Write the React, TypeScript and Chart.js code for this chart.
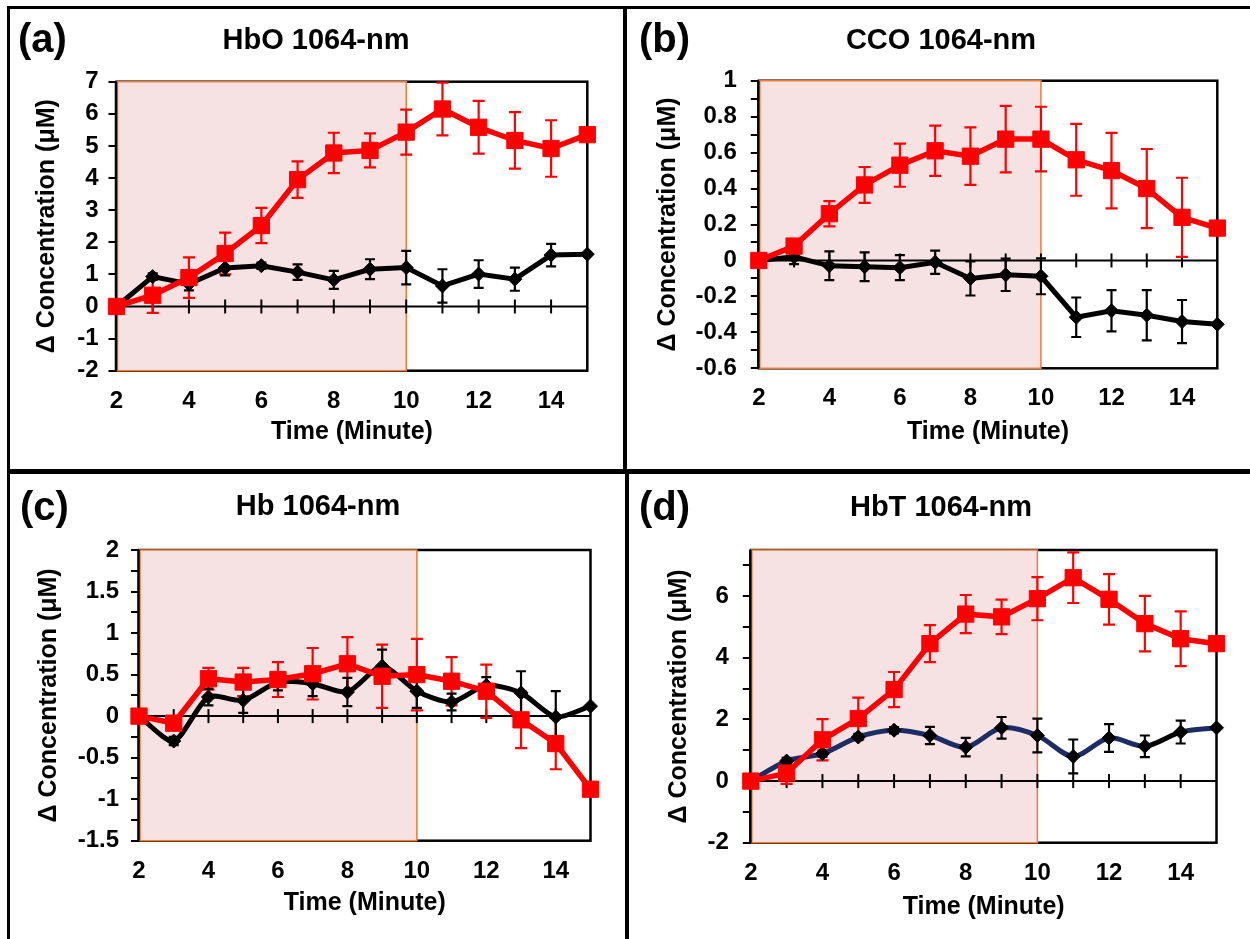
import React, { useEffect, useRef } from 'react';
import { Chart, registerables } from 'chart.js';

Chart.register(...registerables);

// ---------- data ----------
const minutes = [2, 3, 4, 5, 6, 7, 8, 9, 10, 11, 12, 13, 14, 15];
const xTickLabels = [2, 4, 6, 8, 10, 12, 14];
const stimulusWindow = [2, 10];

// (a) HbO
const hboRed = [0, 0.35, 0.9, 1.65, 2.52, 3.95, 4.78, 4.86, 5.43, 6.15, 5.58, 5.17, 4.92, 5.35];
const hboRedErr = [0, 0.55, 0.63, 0.65, 0.55, 0.57, 0.63, 0.53, 0.7, 0.82, 0.82, 0.88, 0.88, 0];
const hboBlack = [0, 0.93, 0.7, 1.2, 1.27, 1.07, 0.83, 1.16, 1.21, 0.64, 1.01, 0.85, 1.6, 1.63];
const hboBlackErr = [0, 0.1, 0.2, 0.23, 0.1, 0.24, 0.28, 0.31, 0.52, 0.52, 0.43, 0.36, 0.35, 0];
const hboYLabels = [-2, -1, 0, 1, 2, 3, 4, 5, 6, 7];

// (b) CCO
const ccoRed = [0, 0.08, 0.26, 0.42, 0.53, 0.61, 0.58, 0.675, 0.675, 0.56, 0.5, 0.4, 0.24, 0.18];
const ccoRedErr = [0, 0.03, 0.07, 0.1, 0.12, 0.14, 0.16, 0.185, 0.18, 0.2, 0.21, 0.22, 0.22, 0];
const ccoBlack = [0, 0.02, -0.03, -0.035, -0.04, -0.01, -0.1, -0.08, -0.088, -0.316, -0.28, -0.305, -0.34, -0.355];
const ccoBlackErr = [0, 0.04, 0.08, 0.08, 0.07, 0.065, 0.095, 0.09, 0.1, 0.11, 0.115, 0.14, 0.12, 0];
const ccoYLabels = [-0.6, -0.4, -0.2, 0, 0.2, 0.4, 0.6, 0.8, 1];

// (c) Hb
const hbRed = [0, -0.085, 0.45, 0.41, 0.44, 0.51, 0.63, 0.48, 0.5, 0.42, 0.3, -0.045, -0.33, -0.88];
const hbRedErr = [0, 0.05, 0.13, 0.17, 0.21, 0.31, 0.32, 0.38, 0.43, 0.29, 0.32, 0.34, 0.31, 0];
const hbBlack = [0, -0.3, 0.23, 0.19, 0.41, 0.39, 0.29, 0.6, 0.3, 0.17, 0.37, 0.28, -0.01, 0.12];
const hbBlackErr = [0, 0.05, 0.1, 0.15, 0.1, 0.15, 0.17, 0.2, 0.2, 0.1, 0.1, 0.26, 0.31, 0];
const hbYLabels = [-1.5, -1, -0.5, 0, 0.5, 1, 1.5, 2];

// (d) HbT
const hbtRed = [0, 0.26, 1.34, 2.03, 2.97, 4.46, 5.42, 5.33, 5.92, 6.6, 5.9, 5.11, 4.62, 4.46];
const hbtRedErr = [0, 0.35, 0.67, 0.68, 0.57, 0.6, 0.62, 0.56, 0.7, 0.82, 0.82, 0.9, 0.89, 0];
const hbtBlack = [0, 0.65, 0.89, 1.43, 1.65, 1.48, 1.1, 1.73, 1.48, 0.8, 1.4, 1.13, 1.59, 1.73];
const hbtBlackErr = [0, 0.1, 0.1, 0.1, 0.1, 0.28, 0.3, 0.35, 0.55, 0.55, 0.45, 0.35, 0.37, 0];
const hbtYLabels = [-2, 0, 2, 4, 6];

// ---------- styles ----------
const FONT = "'Liberation Sans', Arial, Helvetica, sans-serif";
const RED = '#ff0000';
const BLACK = '#000000';
const NAVY = '#1b2d63';
const PINK = '#f7e2e3';
const ORANGE = '#ec7d31';
const hbtSegColors = [NAVY, NAVY, NAVY, NAVY, NAVY, NAVY, NAVY, NAVY, NAVY, NAVY, NAVY, BLACK, NAVY];

const TITLE_AXIS_SIZE = 25;
const TICK_SIZE = 24;
const HALF_LH = (TITLE_AXIS_SIZE * 1.2) / 2;

const panels = [
  {
    key: 'a', label: '(a)', title: 'HbO 1064-nm',
    red: hboRed, redErr: hboRedErr, black: hboBlack, blackErr: hboBlackErr,
    blackTension: 0, seg: null as string[] | null,
    yMin: -2, yMax: 7, yStep: 1, yLabels: hboYLabels,
    box: { x: 10, y: 9, w: 613, h: 460 },
    area: { l: 116.5, t: 81.7, r: 587.3, b: 370.7 },
    yTitleCx: 47.3, xTitleCy: 431.7, yGap: 18,
    labelPos: [18, 51.5], titlePos: [316, 49.3],
  },
  {
    key: 'b', label: '(b)', title: 'CCO 1064-nm',
    red: ccoRed, redErr: ccoRedErr, black: ccoBlack, blackErr: ccoBlackErr,
    blackTension: 0, seg: null as string[] | null,
    yMin: -0.6, yMax: 1, yStep: 0.1, yLabels: ccoYLabels,
    box: { x: 628, y: 9, w: 622, h: 460 },
    area: { l: 758.8, t: 80.7, r: 1217.3, b: 368.3 },
    yTitleCx: 668, xTitleCy: 432.3, yGap: 22,
    labelPos: [639, 51.5], titlePos: [941, 49],
  },
  {
    key: 'c', label: '(c)', title: 'Hb 1064-nm',
    red: hbRed, redErr: hbRedErr, black: hbBlack, blackErr: hbBlackErr,
    blackTension: 0.25, seg: null as string[] | null,
    yMin: -1.5, yMax: 2, yStep: 0.25, yLabels: hbYLabels,
    box: { x: 10, y: 474, w: 614, h: 465 },
    area: { l: 139, t: 550, r: 590.5, b: 840.7 },
    yTitleCx: 48.8, xTitleCy: 903.3, yGap: 20,
    labelPos: [20, 519.5], titlePos: [318, 515],
  },
  {
    key: 'd', label: '(d)', title: 'HbT 1064-nm',
    red: hbtRed, redErr: hbtRedErr, black: hbtBlack, blackErr: hbtBlackErr,
    blackTension: 0.3, seg: hbtSegColors as string[] | null,
    yMin: -2, yMax: 7.5, yStep: 1, yLabels: hbtYLabels,
    box: { x: 629, y: 474, w: 621, h: 465 },
    area: { l: 750.8, t: 550, r: 1216.5, b: 842.7 },
    yTitleCx: 678.9, xTitleCy: 906.7, yGap: 22,
    labelPos: [639, 519.5], titlePos: [941, 516],
  },
];

type PanelCfg = (typeof panels)[number];

const decorPlugin = {
  id: 'decor',
  beforeDatasetsDraw(chart: any) {
    const { ctx, chartArea: a, scales } = chart;
    const x = scales.x;
    const y = scales.y;
    ctx.save();
    // frame
    ctx.strokeStyle = BLACK;
    ctx.lineWidth = 2.5;
    ctx.strokeRect(a.left, a.top, a.right - a.left, a.bottom - a.top);
    // stimulus band
    const x0 = x.getPixelForValue(stimulusWindow[0]);
    const x1 = x.getPixelForValue(stimulusWindow[1]);
    ctx.fillStyle = PINK;
    ctx.fillRect(x0, a.top, x1 - x0, a.bottom - a.top);
    ctx.strokeStyle = ORANGE;
    ctx.lineWidth = 1.5;
    ctx.strokeRect(x0 + 1, a.top, x1 - x0 - 1, a.bottom - a.top);
    // left axis line
    ctx.strokeStyle = BLACK;
    ctx.lineWidth = 2.5;
    ctx.beginPath();
    ctx.moveTo(a.left - 0.5, a.top);
    ctx.lineTo(a.left - 0.5, a.bottom);
    ctx.stroke();
    // zero line with crossing ticks
    const y0 = y.getPixelForValue(0);
    ctx.lineWidth = 2;
    ctx.beginPath();
    ctx.moveTo(a.left, y0);
    ctx.lineTo(a.right, y0);
    ctx.stroke();
    x.ticks.forEach((t: any) => {
      if (t.value <= x.min || t.value >= x.max) return;
      const px = x.getPixelForValue(t.value);
      ctx.beginPath();
      ctx.moveTo(px, y0 - 7);
      ctx.lineTo(px, y0 + 7);
      ctx.stroke();
    });
    // error bars
    chart.data.datasets.forEach((ds: any) => {
      const errs: number[] = ds.errors || [];
      ctx.strokeStyle = ds.errColor;
      ctx.lineWidth = 2.2;
      ds.data.forEach((pt: any, j: number) => {
        const e = errs[j];
        if (!e) return;
        const px = x.getPixelForValue(pt.x);
        const pTop = y.getPixelForValue(pt.y + e);
        const pBot = y.getPixelForValue(pt.y - e);
        const c = ds.capHalf;
        ctx.beginPath();
        ctx.moveTo(px, pTop);
        ctx.lineTo(px, pBot);
        ctx.moveTo(px - c, pTop);
        ctx.lineTo(px + c, pTop);
        ctx.moveTo(px - c, pBot);
        ctx.lineTo(px + c, pBot);
        ctx.stroke();
      });
    });
    ctx.restore();
  },
  afterDraw(chart: any, _args: any, opts: any) {
    const { ctx } = chart;
    ctx.save();
    ctx.fillStyle = BLACK;
    ctx.textBaseline = 'alphabetic';
    ctx.font = `bold 40px ${FONT}`;
    ctx.textAlign = 'left';
    ctx.fillText(opts.label, opts.labelPos[0] - opts.ox, opts.labelPos[1] - opts.oy);
    ctx.font = `bold 29px ${FONT}`;
    ctx.textAlign = 'center';
    ctx.fillText(opts.title, opts.titlePos[0] - opts.ox, opts.titlePos[1] - opts.oy);
    ctx.restore();
  },
};

function PanelChart({ p }: { p: PanelCfg }) {
  const ref = useRef<HTMLCanvasElement>(null);
  useEffect(() => {
    const canvas = ref.current;
    if (!canvas) return;
    const scaleLeft = p.yTitleCx - HALF_LH;
    const padLeft = scaleLeft - p.box.x;
    const yW = p.area.l - scaleLeft;
    const xH = p.xTitleCy + HALF_LH - p.area.b;
    const padTop = p.area.t - p.box.y;
    const padRight = p.box.x + p.box.w - p.area.r;
    const padBottom = p.box.y + p.box.h - p.area.b - xH;
    const tickFont = { family: FONT, size: TICK_SIZE, weight: 'bold' as const };
    const titleFont = { family: FONT, size: TITLE_AXIS_SIZE, weight: 'bold' as const };
    const isLabel = (arr: number[], v: number) => arr.some((l) => Math.abs(l - v) < 1e-6);

    const blackDs: any = {
      label: 'black',
      data: minutes.map((m, i) => ({ x: m, y: p.black[i] })),
      errors: p.blackErr,
      errColor: BLACK,
      capHalf: 5,
      borderColor: p.seg ? NAVY : BLACK,
      backgroundColor: BLACK,
      pointBackgroundColor: BLACK,
      pointBorderColor: BLACK,
      pointStyle: 'rectRot',
      pointRadius: 7,
      pointBorderWidth: 1,
      borderWidth: 5,
      tension: p.blackTension,
      clip: false,
    };
    if (p.seg) {
      const segs = p.seg;
      blackDs.segment = { borderColor: (c: any) => segs[c.p0DataIndex] };
    }

    const chart = new Chart(canvas, {
      type: 'line',
      data: {
        datasets: [
          {
            label: 'red',
            data: minutes.map((m, i) => ({ x: m, y: p.red[i] })),
            errors: p.redErr,
            errColor: RED,
            capHalf: 6,
            borderColor: RED,
            backgroundColor: RED,
            pointBackgroundColor: RED,
            pointBorderColor: RED,
            pointStyle: 'rect',
            pointRadius: 11.5,
            pointBorderWidth: 1,
            borderWidth: 5.5,
            tension: 0,
            clip: false,
          } as any,
          blackDs,
        ],
      },
      options: {
        animation: false,
        responsive: false,
        devicePixelRatio: 1,
        events: [],
        layout: { padding: { left: padLeft, top: padTop, right: padRight, bottom: padBottom } },
        plugins: {
          legend: { display: false },
          tooltip: { enabled: false },
          title: { display: false },
          decor: {
            label: p.label,
            title: p.title,
            labelPos: p.labelPos,
            titlePos: p.titlePos,
            ox: p.box.x,
            oy: p.box.y,
          },
        } as any,
        scales: {
          x: {
            type: 'linear',
            position: 'bottom',
            min: minutes[0],
            max: minutes[minutes.length - 1],
            afterFit: (s: any) => {
              s.height = xH;
            },
            grid: { display: false, drawTicks: false },
            border: { display: false },
            ticks: {
              stepSize: 1,
              autoSkip: false,
              maxRotation: 0,
              minRotation: 0,
              padding: 16,
              color: BLACK,
              font: tickFont,
              callback: (v: any) => (isLabel(xTickLabels, Number(v)) ? String(v) : ''),
            },
            title: { display: true, text: 'Time (Minute)', color: BLACK, font: titleFont, padding: 0 },
          },
          y: {
            type: 'linear',
            min: p.yMin,
            max: p.yMax,
            afterFit: (s: any) => {
              s.width = yW;
            },
            grid: {
              display: true,
              drawOnChartArea: false,
              drawTicks: true,
              tickLength: 8,
              color: BLACK,
              lineWidth: 2,
            },
            border: { display: false },
            ticks: {
              stepSize: p.yStep,
              autoSkip: false,
              includeBounds: false,
              padding: p.yGap - 8,
              color: BLACK,
              font: tickFont,
              callback: (v: any) => {
                const n = Number(v);
                return isLabel(p.yLabels, n) ? String(parseFloat(n.toFixed(2))) : '';
              },
            },
            title: { display: true, text: 'Δ Concentration (μM)', color: BLACK, font: titleFont, padding: 0 },
          },
        },
      } as any,
      plugins: [decorPlugin as any],
    });
    return () => chart.destroy();
  }, [p]);

  return (
    <canvas
      ref={ref}
      width={p.box.w}
      height={p.box.h}
      style={{ position: 'absolute', left: p.box.x, top: p.box.y, width: p.box.w, height: p.box.h }}
    />
  );
}

export default function App() {
  const line = (left: number, top: number, width: number, height: number) => ({
    position: 'absolute' as const,
    left,
    top,
    width,
    height,
    background: BLACK,
  });
  return (
    <div
      style={{
        position: 'absolute',
        left: 0,
        top: 0,
        width: 1250,
        height: 939,
        background: '#ffffff',
        overflow: 'hidden',
      }}
    >
      {panels.map((p) => (
        <PanelChart key={p.key} p={p} />
      ))}
      <div style={line(7, 6, 1243, 3)} />
      <div style={line(7, 6, 3, 933)} />
      <div style={line(623, 6, 4, 466)} />
      <div style={line(625, 469, 4, 470)} />
      <div style={line(7, 469, 1243, 5)} />
    </div>
  );
}
